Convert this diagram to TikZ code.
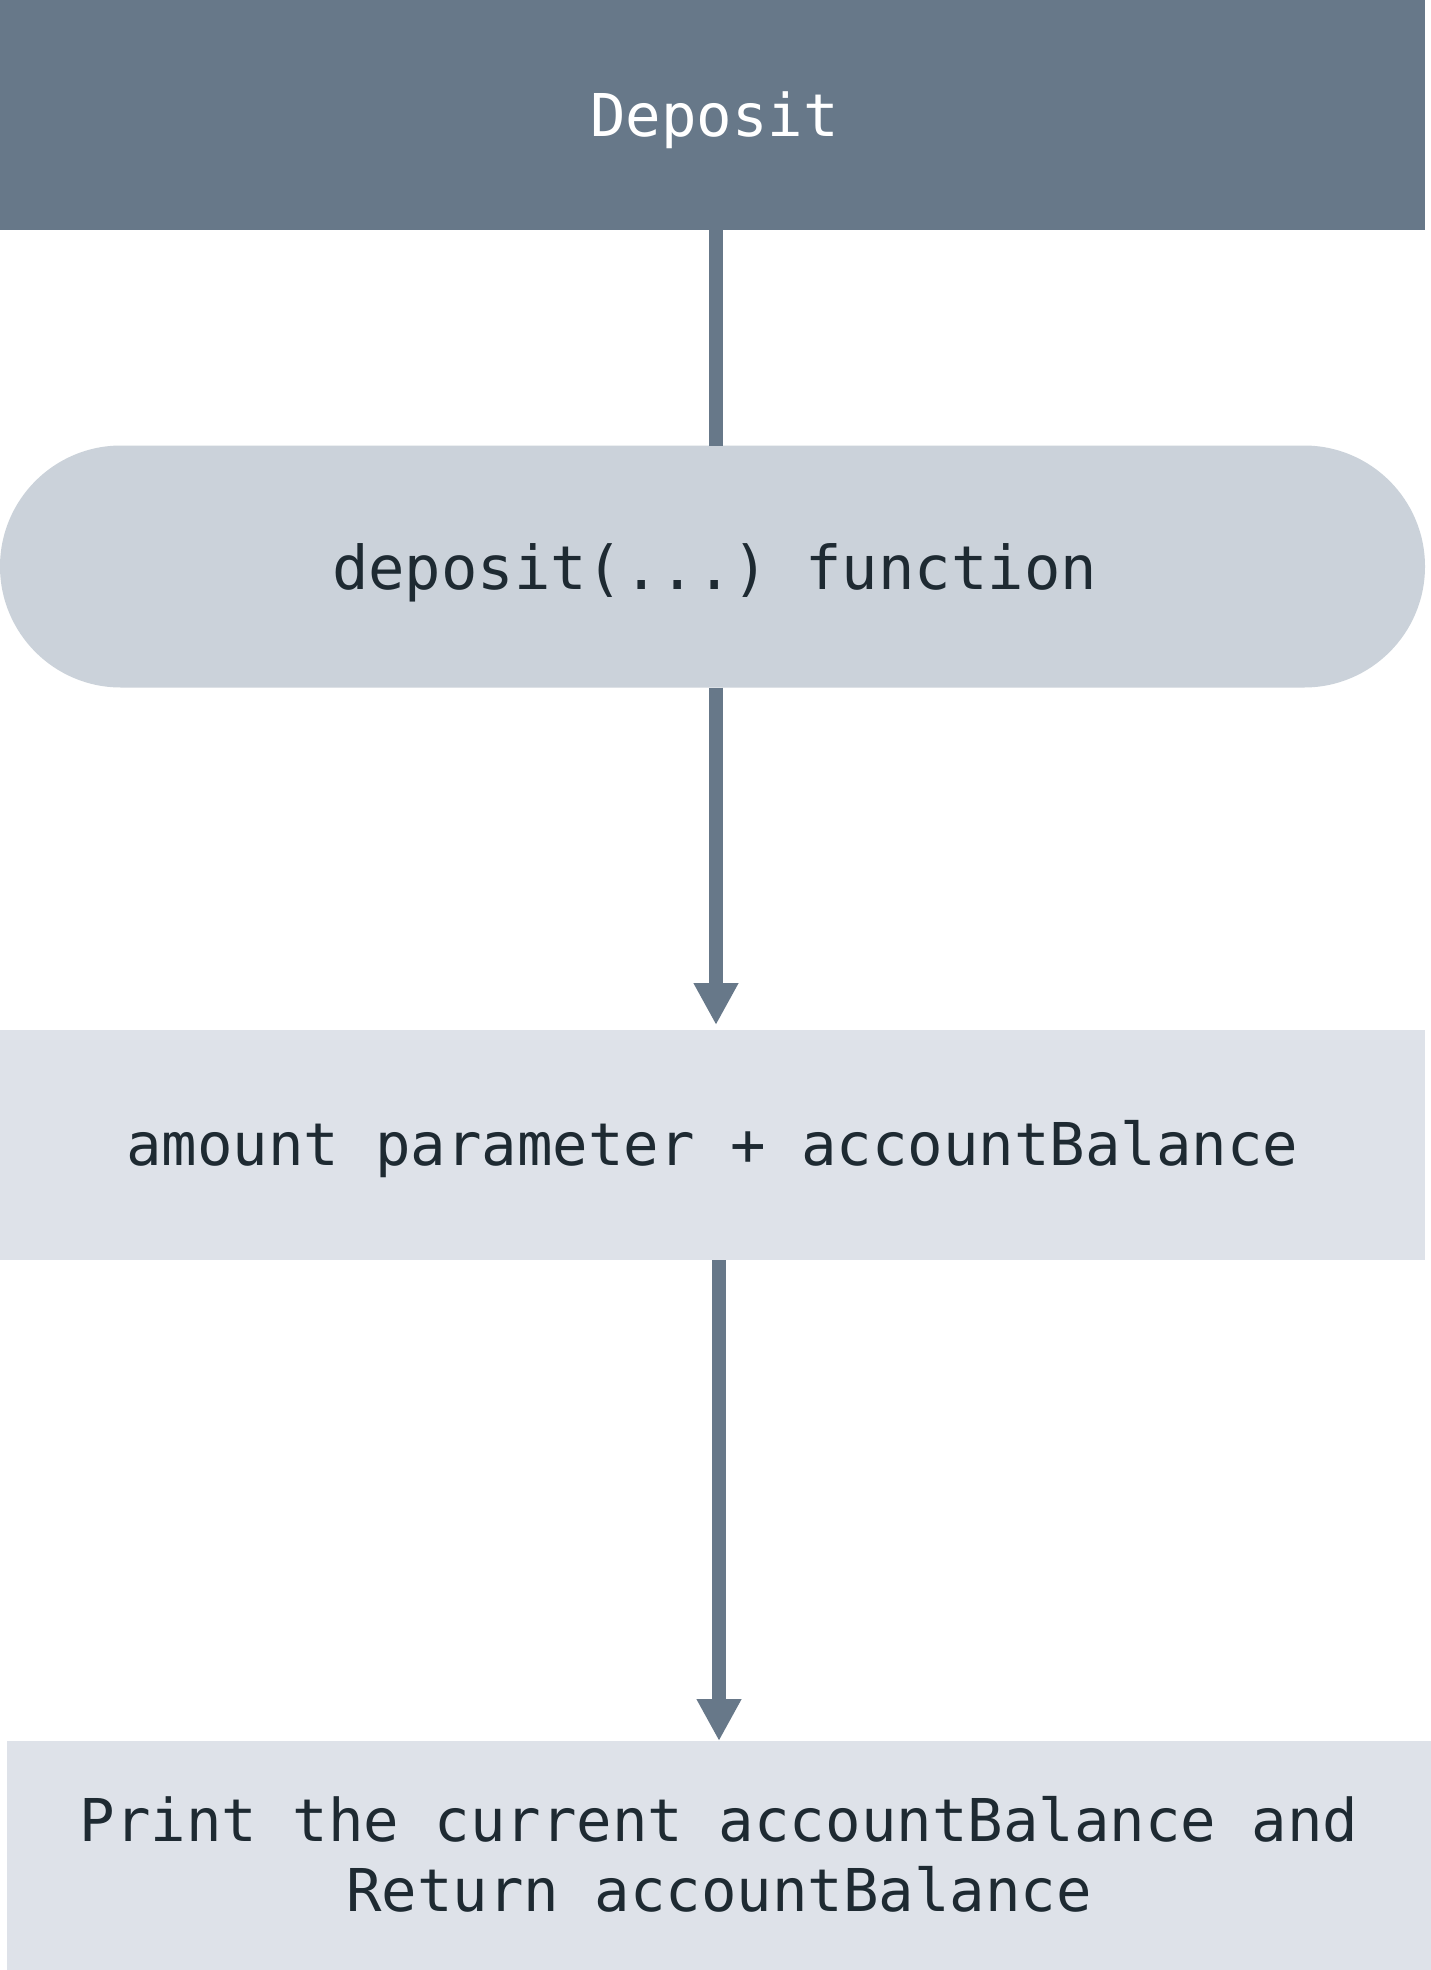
\documentclass[tikz,border=0pt]{standalone}
\usepackage{fontspec}
\setmonofont{DejaVu Sans Mono}
\usetikzlibrary{arrows.meta}
\definecolor{slate}{HTML}{677889}
\definecolor{pillgray}{HTML}{CBD2DA}
\definecolor{boxgray}{HTML}{DEE2E9}
\definecolor{ink}{HTML}{1E2A32}
\tikzset{
  shapebox/.style={rectangle, inner sep=0pt, outer sep=0pt, draw=none},
  labeltext/.style={inner sep=0pt, outer sep=0pt, anchor=base, text=ink,
    font=\ttfamily\fontsize{59}{70}\selectfont},
  conn/.style={draw=slate, line width=14pt},
  arrowconn/.style={conn, -{Triangle[length=42pt, width=42pt]}},
}
\begin{document}
\begin{tikzpicture}[x=1pt, y=-1pt]
\useasboundingbox (0,0) rectangle (1431,1970);
\fill[white] (0,0) rectangle (1431,1970);
\coordinate (colA) at (716,0);
\coordinate (colB) at (719,0);
\node[shapebox, fill=slate, minimum width=1425pt, minimum height=230pt] (top) at (712.5,115) {};
\node[shapebox, fill=pillgray, minimum width=1425pt, minimum height=242pt, rounded corners=121pt] (pill) at (712.5,566.5) {};
\node[shapebox, fill=boxgray, minimum width=1425pt, minimum height=230pt] (mid) at (712.5,1145) {};
\node[shapebox, fill=boxgray, minimum width=1424pt, minimum height=229pt] (bot) at (719,1855.5) {};
\draw[conn] (top.south -| colA) -- (pill.north -| colA);
\draw[arrowconn, shorten >=5pt] (pill.south -| colA) -- (mid.north -| colA);
\draw[arrowconn] (mid.south -| colB) -- (bot.north -| colB);
\node[labeltext, text=white] (tTop) at (714.5,136) {Deposit};
\node[labeltext, font=\ttfamily\fontsize{60.5}{72}\selectfont] (tPill) at (714.5,589) {deposit(...) function};
\node[labeltext] (tMid) at (712.5,1165) {amount parameter + accountBalance};
\node[labeltext, align=center] (tBot) at (719,1911.7) {Print the current accountBalance and\\Return accountBalance};
\end{tikzpicture}
\end{document}
